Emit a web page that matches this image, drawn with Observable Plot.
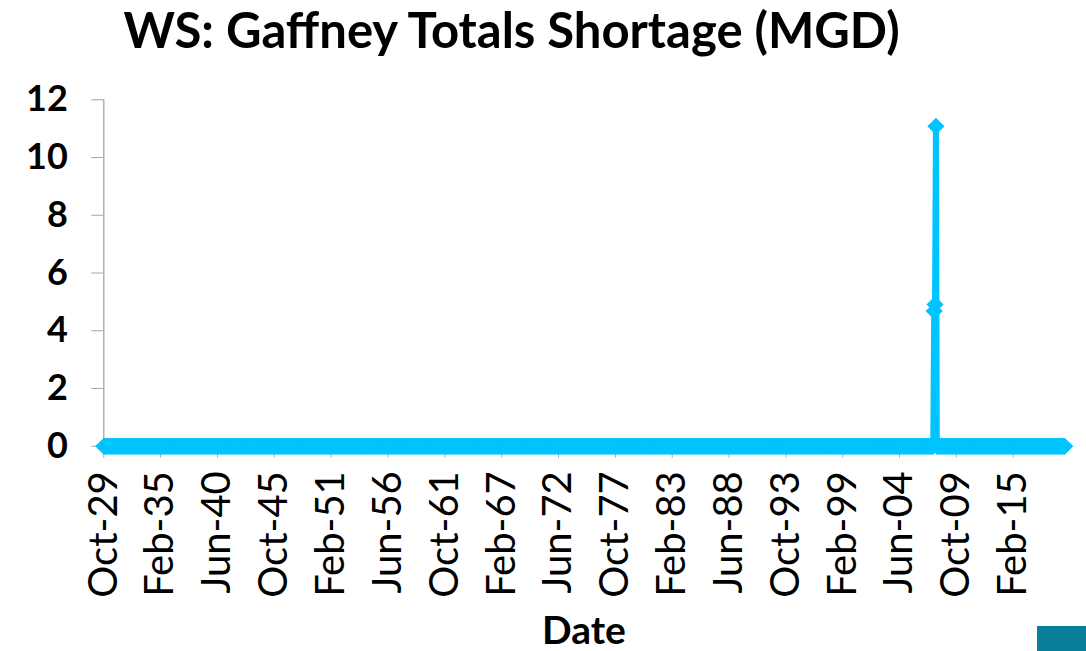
<!DOCTYPE html>
<html><head><meta charset="utf-8">
<script src="https://cdn.jsdelivr.net/npm/d3@7"></script>
<script src="https://cdn.jsdelivr.net/npm/@observablehq/plot@0.6"></script>
<style>
body{margin:0;background:#fff;}
#wrap{position:relative;width:1086px;height:651px;overflow:hidden;font-family:Lato,sans-serif;color:#000;}
#chart{position:absolute;left:0;top:0;}
#title{position:absolute;left:0;width:1023px;text-align:center;top:0px;font-weight:700;font-size:49px;line-height:normal;white-space:nowrap;}
#xlabel{position:absolute;left:484px;width:200px;text-align:center;top:610px;font-weight:700;font-size:39px;line-height:1;}
#corner{position:absolute;left:1037px;top:626px;width:49px;height:25px;background:#0a7f99;}
</style>
</head><body>
<div id="wrap">
  <div id="chart"></div>
  <div id="title">WS: Gaffney Totals Shortage (MGD)</div>
  <div id="xlabel">Date</div>
  <div id="corner"></div>
</div>
<script>
// ---- data ----
const startMonth = "1929-10";
const endMonth = "2019-12";
const baseValue = 0;                       // shortage in every other month
const shortageMonths = ["2007-09", "2007-10", "2007-11"];
const shortageValues = [4.68, 4.91, 11.08];
const yTicks = [0, 2, 4, 6, 8, 10, 12];
const xTickLabels = ["Oct-29","Feb-35","Jun-40","Oct-45","Feb-51","Jun-56","Oct-61","Feb-67","Jun-72","Oct-77","Feb-83","Jun-88","Oct-93","Feb-99","Jun-04","Oct-09","Feb-15"];

// ---- build table ----
const parseYM = d3.utcParse("%Y-%m");
const monthNames = {Jan:0,Feb:1,Mar:2,Apr:3,May:4,Jun:5,Jul:6,Aug:7,Sep:8,Oct:9,Nov:10,Dec:11};
function parseTick(s){
  const [m, yy] = s.split("-");
  const y = +yy;
  return new Date(Date.UTC(y >= 20 ? 1900 + y : 2000 + y, monthNames[m], 1));
}
const start = parseYM(startMonth), end = parseYM(endMonth);
const lookup = new Map(shortageMonths.map((m, i) => [+parseYM(m), shortageValues[i]]));
const rows = d3.utcMonth.range(start, d3.utcMonth.offset(end, 1)).map(d => ({date: d, value: lookup.has(+d) ? lookup.get(+d) : baseValue}));
const tickDates = xTickLabels.map(parseTick);
const tickLabelMap = new Map(tickDates.map((d, i) => [+d, xTickLabels[i]]));

const cyan = "#00c4ff";
const plot = Plot.plot({
  width: 1086,
  height: 651,
  marginLeft: 103.3,
  marginRight: 21.8,
  marginTop: 99.3,
  marginBottom: 205.3,
  style: {fontFamily: "Lato, sans-serif", background: "#fff", color: "#000", overflow: "visible"},
  x: {type: "utc", domain: [start, end]},
  y: {domain: [0, 12]},
  marks: [
    Plot.ruleY([0], {stroke: "#a6a6a6", strokeWidth: 1.3}),
    Plot.axisY({ticks: yTicks, tickSize: 12, tickPadding: 24, stroke: "#a6a6a6", fill: "#000", fontSize: 36, fontWeight: 700, label: null}),
    Plot.axisX({ticks: tickDates, tickFormat: d => tickLabelMap.get(+d), tickRotate: -90, tickSize: 12, tickPadding: 13, stroke: "#a6a6a6", fill: "#000", fontSize: 40, label: null}),
    Plot.frame({anchor: "left", stroke: "#a6a6a6", strokeWidth: 1.3}),
    Plot.line(rows, {x: "date", y: "value", stroke: cyan, strokeWidth: 6}),
    Plot.dot(rows, {x: "date", y: "value", symbol: "diamond2", r: 7.7, fill: cyan, stroke: "none"})
  ]
});
document.getElementById("chart").appendChild(plot);
</script>
</body></html>
